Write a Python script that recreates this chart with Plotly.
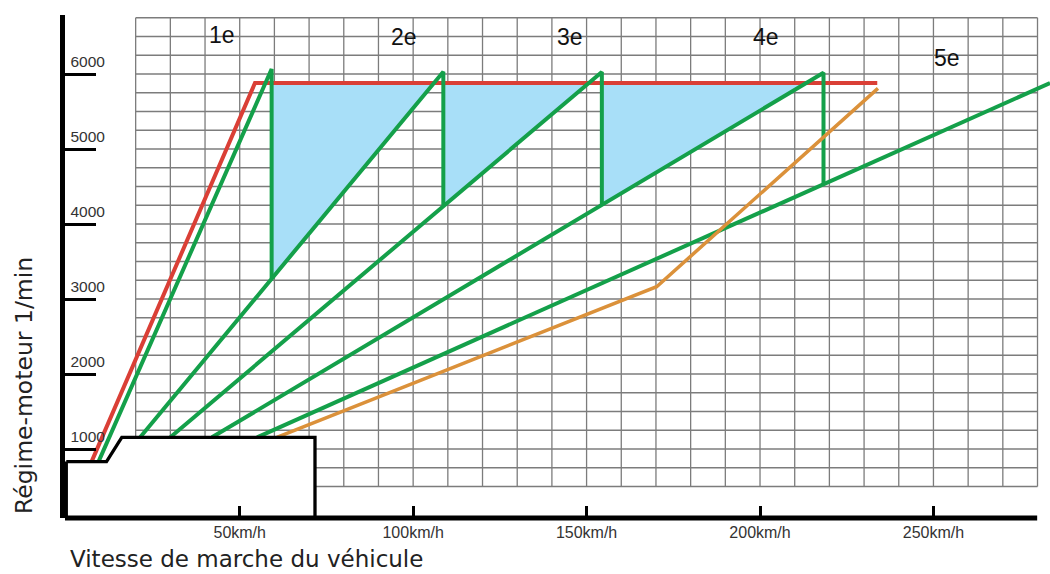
import plotly.graph_objects as go

# ---- axis ticks ----
speed_ticks = [50, 100, 150, 200, 250]
speed_tick_labels = ["50km/h", "100km/h", "150km/h", "200km/h", "250km/h"]
rpm_ticks = [1000, 2000, 3000, 4000, 5000, 6000]
rpm_tick_labels = ["1000", "2000", "3000", "4000", "5000", "6000"]

# ---- red limit curve (speed km/h, rpm) ----
red_speed = [7.3, 54.4, 233.8]
red_rpm = [832, 5880, 5880]

# ---- gear lines ----
gear_names = ["1e", "2e", "3e", "4e", "5e"]
gear_start_speed = [9.3, 21.3, 30.0, 42.0, 55.0]
gear_start_rpm = [832, 1156, 1156, 1156, 1156]
gear_peak_speed = [59.2, 108.7, 154.4, 218.3, 283.6]
gear_peak_rpm = [6067, 6031, 6027, 6017, 5880]
shift_rpm = [3280, 4253, 4267, 4533]

# ---- orange curve ----
orange_speed = [60.7, 170.2, 234.0]
orange_rpm = [1156, 3164, 5809]

# ---- gear label positions ----
label_speed = [44.9, 97.3, 145.2, 201.8, 253.9]
label_rpm = [6516, 6498, 6498, 6498, 6209]

# ---- low-speed box ----
box_speed = [0, 11.6, 16.0, 71.7, 71.7, 0, 0]
box_rpm = [832, 832, 1156, 1156, 80, 80, 832]

# ---- grid extent ----
grid_speed_min, grid_speed_max, grid_speed_step = 20, 280, 10
grid_rpm_min, grid_rpm_max, grid_rpm_step = 500, 6750, 250

RED = "#da3f36"
GREEN = "#14a04a"
ORANGE = "#db913a"
BLUE = "#a8dff8"
GRID = "#7c7c7c"

fig = go.Figure()

# grid
gx, gy = [], []
for v in range(grid_speed_min, grid_speed_max + 1, grid_speed_step):
    gx += [v, v, None]
    gy += [grid_rpm_min, grid_rpm_max, None]
for r in range(grid_rpm_min, grid_rpm_max + 1, grid_rpm_step):
    gx += [grid_speed_min, grid_speed_max, None]
    gy += [r, r, None]
fig.add_trace(go.Scatter(x=gx, y=gy, mode="lines", line=dict(color=GRID, width=1.3),
                         hoverinfo="skip", showlegend=False))

# blue triangles
red_level = red_rpm[1]
for i in range(3):
    s0, r0 = gear_start_speed[i + 1], gear_start_rpm[i + 1]
    s1, r1 = gear_peak_speed[i + 1], gear_peak_rpm[i + 1]
    x_int = s0 + (red_level - r0) / (r1 - r0) * (s1 - s0)
    xs = [gear_peak_speed[i], gear_peak_speed[i], x_int, gear_peak_speed[i]]
    ys = [red_level, shift_rpm[i], red_level, red_level]
    fig.add_trace(go.Scatter(x=xs, y=ys, mode="lines", fill="toself", fillcolor=BLUE,
                             line=dict(width=0, color=BLUE), hoverinfo="skip", showlegend=False))

# red line
fig.add_trace(go.Scatter(x=red_speed, y=red_rpm, mode="lines",
                         line=dict(color=RED, width=4), showlegend=False))

# green gear lines
for i in range(5):
    xs = [gear_start_speed[i], gear_peak_speed[i]]
    ys = [gear_start_rpm[i], gear_peak_rpm[i]]
    if i < 4:
        xs.append(gear_peak_speed[i])
        ys.append(shift_rpm[i])
    fig.add_trace(go.Scatter(x=xs, y=ys, mode="lines", name=gear_names[i],
                             line=dict(color=GREEN, width=4), showlegend=False))

# orange line
fig.add_trace(go.Scatter(x=orange_speed, y=orange_rpm, mode="lines",
                         line=dict(color=ORANGE, width=3.5), showlegend=False))

# box
fig.add_trace(go.Scatter(x=box_speed, y=box_rpm, mode="lines", fill="toself",
                         fillcolor="white", line=dict(color="black", width=3.3),
                         hoverinfo="skip", showlegend=False))

# gear labels
for name, sx, ry in zip(gear_names, label_speed, label_rpm):
    fig.add_annotation(x=sx, y=ry, text=name, showarrow=False,
                       font=dict(family="Liberation Sans", size=23, color="#111"))

# titles
fig.add_annotation(xref="paper", yref="paper", x=0.003, y=-0.0815, xanchor="left",
                   yanchor="middle", text="Vitesse de marche du véhicule", showarrow=False,
                   font=dict(family="DejaVu Sans", size=23, color="#222"))
fig.add_annotation(xref="paper", yref="paper", x=-0.0416, y=0.2624, xanchor="center",
                   yanchor="middle", text="Régime-moteur 1/min", textangle=-90,
                   showarrow=False, font=dict(family="DejaVu Sans", size=23.5, color="#222"))

# x axis line
fig.add_shape(type="line", xref="x", yref="paper", x0=-0.37, x1=279.9, y0=0, y1=0,
              line=dict(color="black", width=5), layer="above")

fig.update_layout(
    width=1050, height=574,
    margin=dict(l=65, r=0, t=15, b=56),
    paper_bgcolor="white", plot_bgcolor="white",
    xaxis=dict(range=[-0.37, 283.6], showgrid=False, zeroline=False, showline=False,
               automargin=False,
               ticks="inside", tickvals=speed_ticks, ticktext=speed_tick_labels,
               ticklen=12, tickwidth=3, tickcolor="black", ticklabelstandoff=3,
               tickfont=dict(family="Liberation Sans", size=16, color="#333")),
    yaxis=dict(range=[80, 6787], showgrid=False, zeroline=False, showline=True,
               automargin=False,
               linecolor="black", linewidth=5,
               ticks="inside", tickvals=rpm_ticks, ticktext=rpm_tick_labels,
               ticklen=31, tickwidth=3.3, tickcolor="black",
               ticklabelposition="inside top", ticklabelstandoff=3,
               tickfont=dict(family="Liberation Sans", size=15.5, color="#333")),
)

fig.write_html("out.html", config={"displayModeBar": False},
               post_script="document.body.style.margin='0px';document.body.style.overflow='hidden';")
